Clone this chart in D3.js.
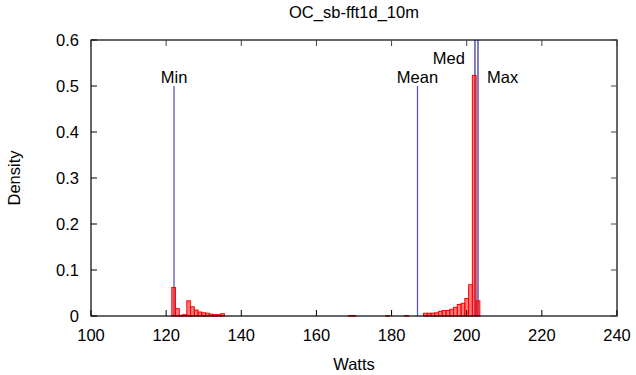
<!DOCTYPE html>
<html>
<head>
<meta charset="utf-8">
<script src="https://cdn.jsdelivr.net/npm/d3@7"></script>
<style>
  body { margin: 0; background: #fff; }
  text { font-family: "Liberation Sans", Arial, Helvetica, sans-serif; fill: #000; }
</style>
</head>
<body>
<div id="chart"></div>
<script>
// histogram bins (bin centre in Watts, density)
var binWatts = [122, 123, 124, 125, 126, 127, 128, 129, 130, 131, 132, 133, 134, 135,
                169, 170, 179, 184,
                189, 190, 191, 192, 193, 194, 195, 196, 197, 198, 199, 200, 201, 202, 203];
var binDensity = [0.062, 0.016, 0.0015, 0.003, 0.033, 0.020, 0.013, 0.0087, 0.007, 0.006, 0.004, 0.003, 0.003, 0.005,
                  0.001, 0.001, 0.001, 0.001,
                  0.006, 0.006, 0.006, 0.007, 0.010, 0.012, 0.012, 0.0145, 0.019, 0.025, 0.0275, 0.038, 0.068, 0.523, 0.033];

var statNames = ["Min", "Mean", "Med", "Max"];
var statValues = [122.1, 186.9, 202.2, 203.0];
var statTops = [0.5, 0.5, 0.6, 0.6];

var xTicks = [100, 120, 140, 160, 180, 200, 220, 240];
var yTicks = [0, 0.1, 0.2, 0.3, 0.4, 0.5, 0.6];

var width = 636, height = 375;
var margin = {top: 40, right: 19, bottom: 59, left: 91};
var binWidth = 1;
var fontSize = "16.5px";

var svg = d3.select("#chart")
            .append("svg")
            .attr("width", width)
            .attr("height", height);

var x = d3.scaleLinear().domain([100, 240]).range([margin.left, width - margin.right]);
var y = d3.scaleLinear().domain([0, 0.6]).range([height - margin.bottom, margin.top]);

var bins = binWatts.map((w, i) => ({w: w, d: binDensity[i]}));

// stat lines drawn under the bars
var stats = statNames.map((n, i) => ({name: n, v: statValues[i], top: statTops[i]}));

svg.selectAll(".stat")
   .data(stats)
   .enter()
   .append("line")
   .attr("x1", d => x(d.v))
   .attr("x2", d => x(d.v))
   .attr("y1", y(0))
   .attr("y2", d => y(d.top))
   .attr("stroke", d => d.top > 0.5 ? "#00008b" : "#5a5ab8")
   .attr("stroke-width", d => d.top > 0.5 ? 1 : 1.3);

svg.selectAll(".bar")
   .data(bins)
   .enter()
   .append("rect")
   .attr("x", d => x(d.w - binWidth / 2))
   .attr("width", d => x(d.w + binWidth / 2) - x(d.w - binWidth / 2))
   .attr("y", d => y(d.d))
   .attr("height", d => y(0) - y(d.d))
   .attr("fill", "#ff0000")
   .attr("fill-opacity", 0.5)
   .attr("stroke", "#ff0000")
   .attr("stroke-width", 1);

// stat labels
var labelPos = {
  Min:  {dx: 0,   y: 0.5, anchor: "middle", dy: -3},
  Mean: {dx: 0,   y: 0.5, anchor: "middle", dy: -3},
  Med:  {dx: -10, y: 0.55, anchor: "end", dy: 1},
  Max:  {dx: 9,   y: 0.5, anchor: "start", dy: -3}
};

svg.selectAll(".stat-label")
   .data(stats)
   .enter()
   .append("text")
   .attr("x", d => x(d.v) + labelPos[d.name].dx)
   .attr("y", d => y(labelPos[d.name].y) + labelPos[d.name].dy)
   .attr("text-anchor", d => labelPos[d.name].anchor)
   .style("font-size", fontSize)
   .text(d => d.name);

// frame
svg.append("rect")
   .attr("x", margin.left)
   .attr("y", margin.top)
   .attr("width", width - margin.left - margin.right)
   .attr("height", height - margin.top - margin.bottom)
   .attr("fill", "none")
   .attr("stroke", "#000")
   .attr("stroke-width", 1.2);

// ticks on all four sides, pointing inward
var tickLen = 6;
xTicks.forEach(t => {
  svg.append("line").attr("x1", x(t)).attr("x2", x(t))
     .attr("y1", y(0)).attr("y2", y(0) - tickLen).attr("stroke", "#000");
  svg.append("line").attr("x1", x(t)).attr("x2", x(t))
     .attr("y1", y(0.6)).attr("y2", y(0.6) + tickLen).attr("stroke", "#444");
  svg.append("text").attr("x", x(t)).attr("y", y(0) + 25)
     .attr("text-anchor", "middle").style("font-size", fontSize).text(t);
});

yTicks.forEach(t => {
  svg.append("line").attr("x1", x(100)).attr("x2", x(100) + tickLen)
     .attr("y1", y(t)).attr("y2", y(t)).attr("stroke", "#000");
  svg.append("line").attr("x1", x(240)).attr("x2", x(240) - tickLen)
     .attr("y1", y(t)).attr("y2", y(t)).attr("stroke", "#444");
  svg.append("text").attr("x", margin.left - 12).attr("y", y(t) + 6)
     .attr("text-anchor", "end").style("font-size", fontSize).text(t === 0 ? "0" : t.toFixed(1));
});

// titles
svg.append("text")
   .attr("x", (margin.left + width - margin.right) / 2)
   .attr("y", 18)
   .attr("text-anchor", "middle")
   .style("font-size", fontSize)
   .text("OC_sb-fft1d_10m");

svg.append("text")
   .attr("x", (margin.left + width - margin.right) / 2)
   .attr("y", 370)
   .attr("text-anchor", "middle")
   .style("font-size", fontSize)
   .text("Watts");

svg.append("text")
   .attr("transform", "translate(20," + (margin.top + height - margin.bottom) / 2 + ") rotate(-90)")
   .attr("text-anchor", "middle")
   .style("font-size", fontSize)
   .text("Density");
</script>
</body>
</html>
